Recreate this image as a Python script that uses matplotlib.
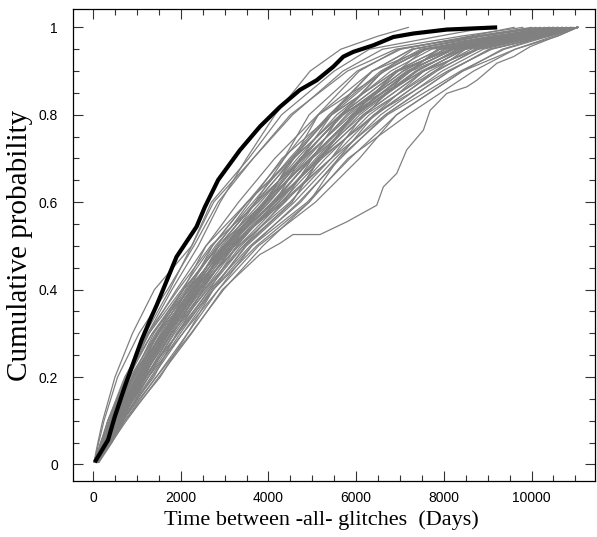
import matplotlib
matplotlib.use("Agg")
import matplotlib.pyplot as plt
from matplotlib.ticker import MultipleLocator

# cumulative probability levels at which each simulated curve is sampled
levels = [0.005, 0.05, 0.1, 0.2, 0.3, 0.4, 0.5, 0.6, 0.7, 0.8, 0.9, 0.95, 0.98, 1.0]

# simulated curves: time (days) reached at each level
sim_curves = [
    [58, 241, 392, 846, 1463, 2181, 2968, 3902, 4581, 5388, 6372, 7264, 9100, 10800],
    [86, 262, 473, 1087, 1721, 2496, 3188, 4164, 5152, 6213, 7198, 8231, 9800, 11050],
    [39, 212, 424, 934, 1572, 2263, 2871, 3701, 4362, 5141, 6658, 7541, 9200, 10400],
    [103, 318, 591, 1116, 1604, 2302, 3121, 4352, 5428, 6401, 8083, 9094, 10300, 11050],
    [74, 289, 524, 1023, 1611, 2143, 2828, 3571, 4310, 5442, 6904, 7912, 9700, 10900],
    [46, 183, 337, 812, 1351, 2058, 2576, 3318, 4142, 5127, 6071, 6962, 8800, 10200],
    [97, 347, 622, 1262, 1832, 2418, 3026, 3957, 4946, 5953, 7488, 8493, 10000, 11050],
    [63, 271, 488, 1031, 1684, 2385, 3172, 4288, 5217, 6409, 7842, 8731, 10200, 11050],
    [114, 377, 641, 1208, 1794, 2617, 3431, 4346, 4998, 5642, 6958, 8142, 9600, 10700],
    [68, 232, 441, 905, 1386, 2062, 2873, 3904, 4948, 5962, 7251, 7853, 9500, 11050],
    [81, 301, 571, 1172, 1938, 2662, 3584, 4733, 5597, 6712, 8381, 9380, 10400, 11050],
    [51, 229, 437, 1028, 1463, 2187, 2723, 3512, 4571, 5643, 6611, 7612, 9300, 10600],
    [126, 405, 689, 1352, 2047, 2861, 3773, 5072, 6074, 6921, 8428, 9331, 10300, 11050],
    [91, 299, 521, 1118, 1793, 2538, 3276, 4152, 4731, 5692, 6608, 7611, 9100, 10500],
    [57, 213, 386, 907, 1608, 2381, 3322, 4489, 5431, 6157, 7547, 8442, 9900, 11050],
    [86, 318, 589, 1263, 1938, 2502, 3168, 3907, 4787, 5898, 7252, 8447, 9900, 11050],
    [35, 176, 372, 753, 1243, 1941, 2683, 3761, 4734, 5693, 7201, 8201, 9800, 11050],
    [109, 348, 671, 1441, 2158, 2742, 3468, 4537, 5162, 6204, 7788, 8792, 10200, 11050],
    [69, 271, 524, 1087, 1608, 2262, 3018, 3712, 4569, 5138, 6362, 7261, 8900, 10300],
    [51, 203, 338, 758, 1352, 2181, 2977, 4148, 4951, 5947, 6907, 7903, 9600, 11050],
    [92, 329, 537, 998, 1718, 2381, 3323, 4298, 5428, 6668, 8132, 9038, 10300, 11050],
    [137, 432, 724, 1442, 2232, 2978, 3874, 4928, 5812, 7176, 8678, 9628, 10500, 11050],
    [62, 232, 473, 1027, 1681, 2298, 2982, 3951, 4738, 5437, 6612, 7312, 8800, 10100],
    [80, 271, 424, 937, 1497, 2263, 3173, 4103, 4997, 6158, 7542, 8743, 10100, 11050],
    [119, 358, 624, 1388, 1902, 2658, 3278, 4147, 5168, 6458, 7792, 8493, 10000, 11050],
    [27, 174, 336, 723, 1278, 2022, 2718, 3521, 4352, 4927, 6022, 7018, 8600, 9600],
    [73, 290, 487, 903, 1498, 2142, 3022, 4103, 5212, 5903, 6952, 8153, 9800, 11050],
    [96, 319, 637, 1172, 1683, 2418, 3128, 3952, 4523, 5438, 6908, 8198, 9700, 10800],
    [46, 242, 424, 938, 1462, 2058, 2872, 3713, 4782, 5648, 7542, 8448, 10000, 11050],
    [131, 377, 687, 1262, 2048, 2742, 3622, 4688, 5642, 6668, 8132, 9038, 10400, 11050],
    [80, 301, 473, 1028, 1572, 2418, 2978, 3952, 4738, 5692, 7202, 7903, 9400, 10600],
    [62, 261, 537, 1208, 1793, 2538, 3428, 4537, 5168, 5947, 7202, 8198, 9900, 11050],
    [103, 387, 724, 1532, 2158, 2862, 3623, 4883, 5858, 6922, 8428, 9628, 10600, 11050],
    [39, 203, 386, 812, 1278, 1902, 2573, 3518, 4523, 5438, 6362, 7562, 9200, 10400],
    [74, 262, 487, 1118, 1682, 2298, 2873, 3712, 4568, 5648, 6952, 7562, 9400, 10900],
    [97, 348, 589, 1172, 1938, 2742, 3728, 4928, 5598, 6412, 7542, 8743, 10100, 11050],
    [66, 278, 505, 1062, 1655, 2335, 3080, 4020, 4880, 5780, 7060, 8010, 9700, 11050],
    [88, 310, 560, 1150, 1760, 2460, 3230, 4210, 5080, 6020, 7380, 8330, 9900, 11050],
    [54, 250, 455, 970, 1540, 2220, 2930, 3820, 4660, 5560, 6790, 7720, 9500, 10700],
    [77, 285, 510, 1040, 1640, 2350, 3110, 4080, 4990, 5990, 7350, 8380, 10000, 11050],
    [99, 336, 600, 1220, 1860, 2580, 3370, 4380, 5300, 6300, 7680, 8620, 10100, 11050],
    [43, 222, 410, 880, 1430, 2110, 2790, 3650, 4480, 5380, 6560, 7470, 9300, 10500],
    [84, 296, 545, 1130, 1730, 2440, 3220, 4240, 5120, 6080, 7400, 8300, 9900, 11050],
    [70, 268, 498, 1060, 1690, 2330, 3060, 3880, 4720, 5710, 7080, 8050, 9700, 10950],
    [110, 365, 660, 1320, 1990, 2700, 3500, 4590, 5520, 6560, 7960, 8900, 10200, 11050],
    [58, 255, 470, 990, 1580, 2240, 3050, 4000, 4830, 5830, 7150, 8240, 9800, 11050],
    # the few runs that stay close to, or cross, the observed curve
    [20, 110, 220, 500, 900, 1400, 2250, 2700, 3550, 4300, 5500, 6300, 7900, 9000],
    [30, 130, 250, 560, 1050, 1700, 2300, 2850, 3650, 4500, 5800, 6900, 8700, 10000],
    [60, 250, 450, 780, 1250, 1800, 2400, 2900, 3500, 4150, 4950, 5650, 6500, 7190],
    [50, 230, 400, 760, 1200, 1750, 2250, 2750, 3650, 4550, 5700, 6600, 8400, 9800],
]

# one simulated run with a long flat stretch near 0.53
flat_days = [100, 420, 760, 1500, 2250, 2950, 3800, 4263, 4560, 5176, 5785, 6470,
             6621, 6927, 7155, 7534, 7687, 8068, 8525, 8753, 9210, 9589, 9970,
             10724, 11050]
flat_prob = [0.005, 0.05, 0.1, 0.2, 0.3, 0.4, 0.48, 0.506, 0.526, 0.526, 0.555,
             0.593, 0.635, 0.666, 0.72, 0.765, 0.81, 0.849, 0.864, 0.879, 0.918,
             0.933, 0.956, 0.986, 1.0]

# observed glitch intervals
obs_days = [39, 342, 495, 724, 913, 1105, 1333, 1454, 1904, 2361, 2550, 2854,
            3349, 3806, 4262, 4719, 5100, 5479, 5708, 5936, 6393, 6849, 7306,
            8068, 9217]
obs_prob = [0.005, 0.056, 0.109, 0.178, 0.231, 0.284, 0.338, 0.365, 0.475,
            0.544, 0.589, 0.651, 0.719, 0.773, 0.818, 0.857, 0.879, 0.910,
            0.933, 0.944, 0.959, 0.978, 0.986, 0.995, 1.0]

fig = plt.figure(figsize=(5.97, 5.37), dpi=100)
ax = fig.add_axes([0.1228, 0.1034, 0.874, 0.8806])

for days in sim_curves:
    ax.plot(days, levels, color="#808080", lw=0.9)
ax.plot(flat_days, flat_prob, color="#808080", lw=0.9)
ax.plot(obs_days, obs_prob, color="black", lw=3.0, solid_capstyle="butt")

ax.set_xlim(-450, 11450)
ax.set_ylim(-0.039, 1.043)
ax.xaxis.set_major_locator(MultipleLocator(2000))
ax.xaxis.set_minor_locator(MultipleLocator(500))
ax.yaxis.set_minor_locator(MultipleLocator(0.05))
ax.set_yticks([0, 0.2, 0.4, 0.6, 0.8, 1.0])
ax.set_yticklabels(["0", "0.2", "0.4", "0.6", "0.8", "1"])

ax.tick_params(which="both", direction="in", top=True, right=True,
               labelsize=10, width=0.8, color="#333333")
ax.tick_params(axis="x", which="major", length=7, pad=7)
ax.tick_params(axis="y", which="major", length=7, pad=11)
ax.tick_params(which="minor", length=4)
for tl in ax.get_xticklabels() + ax.get_yticklabels():
    tl.set_family("Liberation Sans")
for s in ax.spines.values():
    s.set_linewidth(0.9)

ax.set_xlabel("Time between -all- glitches  (Days)", family="Liberation Serif",
              fontsize=16, labelpad=4)
ax.xaxis.label.set_x(0.476)
ax.set_ylabel("Cumulative probability", family="Liberation Serif",
              fontsize=21, labelpad=4)

fig.savefig("out.png", dpi=100)
